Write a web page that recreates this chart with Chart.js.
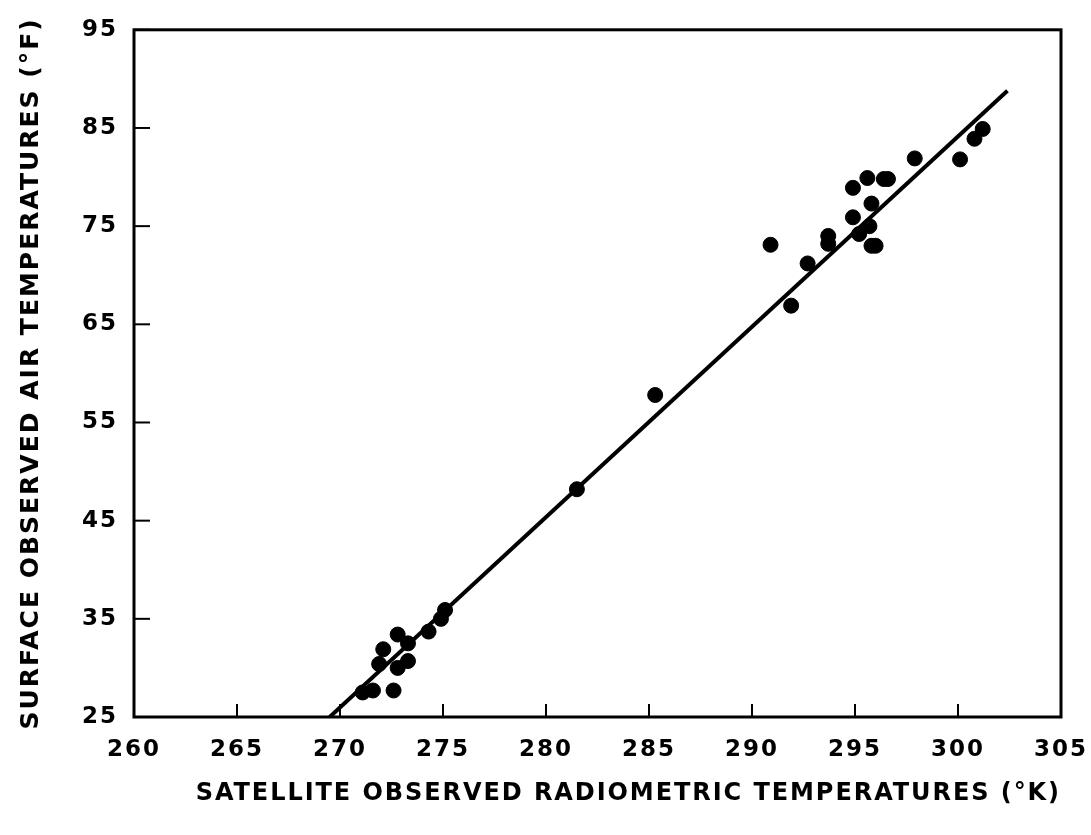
<!DOCTYPE html>
<html>
<head>
<meta charset="utf-8">
<script src="https://cdn.jsdelivr.net/npm/chart.js@4.4.0/dist/chart.umd.min.js"></script>
<style>
  body { margin: 0; background: #fff; }
  #wrap { width: 1091px; height: 835px; }
</style>
</head>
<body>
<div id="wrap"><canvas id="canvasTemp" width="1091" height="835"></canvas></div>
<script>
// satellite radiometric temperature (K) vs surface air temperature (F)
let satTemp = [271.1, 271.6, 272.6, 271.9, 272.8, 273.3, 272.1, 273.3, 272.8, 274.3, 274.9, 275.1,
    281.5, 285.3, 290.9, 291.9, 292.7, 293.7, 293.7, 294.9, 294.9, 295.6, 296.4, 296.6,
    295.8, 295.7, 295.2, 295.8, 296.0, 297.9, 300.1, 300.8, 301.2];
let airTemp = [27.5, 27.7, 27.7, 30.4, 30.0, 30.7, 31.9, 32.5, 33.4, 33.7, 35.0, 35.9,
    48.2, 57.8, 73.1, 66.9, 71.2, 74.0, 73.2, 78.9, 75.9, 79.9, 79.8, 79.8,
    77.3, 75.0, 74.2, 73.0, 73.0, 81.9, 81.8, 83.9, 84.9];

// fitted line end points
let fitX = [269.5, 302.4];
let fitY = [25, 88.8];

let xTicks = [260, 265, 270, 275, 280, 285, 290, 295, 300, 305];
let yTicks = [25, 35, 45, 55, 65, 75, 85, 95];

let fonte = { family: 'DejaVu Sans', weight: 'bold', size: 23 };
let fonteTitulo = { family: 'DejaVu Sans', weight: 'bold', size: 25 };

// frame + inward tick marks, wider letters
let moldura = {
    id: 'moldura',
    beforeDraw(chart) {
        chart.ctx.letterSpacing = '2px';
    },
    afterDraw(chart) {
        let ctx = chart.ctx;
        let a = chart.chartArea;
        let sx = chart.scales.x, sy = chart.scales.y;
        ctx.save();
        ctx.strokeStyle = '#000';
        ctx.lineWidth = 2;
        xTicks.forEach(function (v) {
            let px = sx.getPixelForValue(v);
            ctx.beginPath();
            ctx.moveTo(px, a.bottom);
            ctx.lineTo(px, a.bottom - 13);
            ctx.stroke();
        });
        yTicks.forEach(function (v) {
            let py = sy.getPixelForValue(v);
            ctx.beginPath();
            ctx.moveTo(a.left, py);
            ctx.lineTo(a.left + 16, py);
            ctx.stroke();
        });
        ctx.lineWidth = 3;
        ctx.strokeRect(a.left, a.top, a.right - a.left, a.bottom - a.top);
        ctx.restore();
    }
};

let canvasTemp = document.getElementById('canvasTemp').getContext('2d');
let chart = new Chart(canvasTemp, {
    type: 'scatter',
    data: {
        datasets: [
            {
                label: 'Observações',
                data: satTemp.map(function (v, i) { return { x: v, y: airTemp[i] }; }),
                backgroundColor: '#000',
                borderColor: '#000',
                pointRadius: 7.5,
                pointHoverRadius: 7.5
            },
            {
                type: 'line',
                label: 'Ajuste',
                data: fitX.map(function (v, i) { return { x: v, y: fitY[i] }; }),
                borderColor: '#000',
                borderWidth: 4,
                pointRadius: 0,
                fill: false
            }
        ]
    },
    options: {
        responsive: false,
        animation: false,
        layout: { padding: { top: 21, right: 30, left: 0, bottom: 0 } },
        plugins: { legend: { display: false }, tooltip: { enabled: false } },
        scales: {
            x: {
                type: 'linear',
                min: 260, max: 305,
                afterBuildTicks: function (s) { s.ticks = xTicks.map(function (v) { return { value: v }; }); },
                afterFit: function (s) { s.height = 118; s.paddingRight = 0; s.paddingLeft = 0; },
                grid: { display: false, drawTicks: false },
                border: { display: false },
                ticks: { color: '#000', font: fonte, padding: 19, maxRotation: 0 },
                title: {
                    display: true,
                    text: '      SATELLITE OBSERVED RADIOMETRIC TEMPERATURES (°K)',
                    color: '#000',
                    font: fonteTitulo,
                    padding: { top: 0, bottom: 27 }
                }
            },
            y: {
                type: 'linear',
                min: 25, max: 95,
                afterBuildTicks: function (s) { s.ticks = yTicks.map(function (v) { return { value: v }; }); },
                afterFit: function (s) { s.width = 134; },
                grid: { display: false, drawTicks: false },
                border: { display: false },
                ticks: { color: '#000', font: fonte, padding: 16 },
                title: {
                    display: true,
                    text: 'SURFACE OBSERVED AIR TEMPERATURES (°F)',
                    color: '#000',
                    font: fonteTitulo,
                    padding: { top: 16, bottom: 0 }
                }
            }
        }
    },
    plugins: [moldura]
});
</script>
</body>
</html>
